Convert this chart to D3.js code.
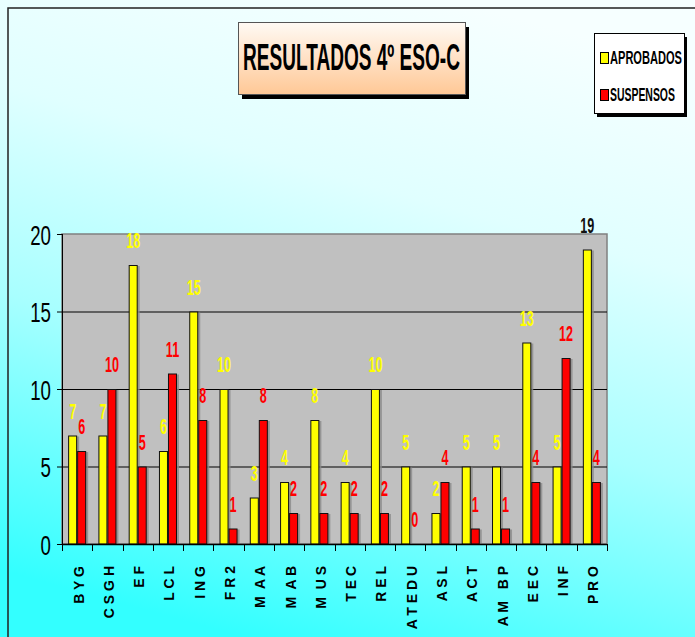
<!DOCTYPE html>
<meta charset="utf-8">
<title>resultados</title>
<style>
body { margin: 0; }
svg { display: block; }
</style>
<body>
<script src="https://cdn.jsdelivr.net/npm/d3@7"></script>
<script>
var categories = ["BYG", "CSGH", "EF", "LCL", "ING", "FR2", "MAA", "MAB", "MUS", "TEC",
                  "REL", "ATEDU", "ASL", "ACT", "AMBP", "EEC", "INF", "PRO"];
// spaced text as printed under the axis
var tickLabels = ["B Y G", "C S G H", "E F", "L C L", "I N G", "F R 2", "M  A A", "M  A B", "M  U S", "T E C",
                  "R E L", "A T E D U", "A S L", "A C T", "A M   B P", "E E C", "I N F", "P R O"];
var aprobados = [7, 7, 18, 6, 15, 10, 3, 4, 8, 4, 10, 5, 2, 5, 5, 13, 5, 19];
var suspensos = [6, 10, 5, 11, 8, 1, 8, 2, 2, 2, 2, 0, 4, 1, 1, 4, 12, 4];
var seriesNames = ["APROBADOS", "SUSPENSOS"];
var seriesColors = ["#ffff00", "#ff0000"];
var yTicks = [0, 5, 10, 15, 20];

var width = 695, height = 637;
var font = "'Liberation Sans', Arial, sans-serif";

var svg = d3.select("body").append("svg")
    .attr("width", width)
    .attr("height", height);

// squeeze a text horizontally so it spans w pixels
function fitWidth(sel, w, x, y) {
  sel.each(function() {
    var t = d3.select(this);
    var len = this.getComputedTextLength();
    t.attr("transform", "translate(" + x + "," + y + ") scale(" + (w / len) + ",1)");
  });
}

var defs = svg.append("defs");
var bg = defs.append("linearGradient").attr("id", "bg")
    .attr("x1", 0.65).attr("y1", 0).attr("x2", 0.35).attr("y2", 1);
bg.append("stop").attr("offset", 0).attr("stop-color", "#f6ffff");
bg.append("stop").attr("offset", 0.3).attr("stop-color", "#e0ffff");
bg.append("stop").attr("offset", 0.6).attr("stop-color", "#a8ffff");
bg.append("stop").attr("offset", 1).attr("stop-color", "#33ffff");
var peach = defs.append("linearGradient").attr("id", "peach")
    .attr("x1", 0).attr("y1", 0).attr("x2", 0).attr("y2", 1);
peach.append("stop").attr("offset", 0).attr("stop-color", "#fffaf4");
peach.append("stop").attr("offset", 1).attr("stop-color", "#ffc896");

// background + frame
svg.append("rect").attr("width", width).attr("height", height).attr("fill", "url(#bg)");
svg.append("path").attr("d", "M8,637V8H695").attr("fill", "none").attr("stroke", "#222").attr("stroke-width", 1.5);

var x = d3.scaleBand()
    .domain(categories)
    .range([62, 607]);
var x1 = d3.scaleBand()
    .domain([0, 1])
    .range([0, x.bandwidth()])
    .paddingOuter(0.68);
var y = d3.scaleLinear()
    .domain([0, 20])
    .range([544, 234]);

// plot area
svg.append("rect")
    .attr("x", x.range()[0]).attr("y", y(20))
    .attr("width", x.range()[1] - x.range()[0]).attr("height", y(0) - y(20))
    .attr("fill", "#c0c0c0")
    .attr("stroke", "#808080").attr("stroke-width", 1.5);

svg.append("g").selectAll("line")
    .data(yTicks.filter(function(d) { return d > 0 && d < 20; }))
  .enter().append("line")
    .attr("x1", x.range()[0]).attr("x2", x.range()[1])
    .attr("y1", function(d) { return y(d) + 0.5; })
    .attr("y2", function(d) { return y(d) + 0.5; })
    .attr("stroke", "#000");

// bars
var groups = svg.append("g").selectAll("g")
    .data(categories.map(function(c, i) { return { cat: c, values: [aprobados[i], suspensos[i]] }; }))
  .enter().append("g")
    .attr("transform", function(d) { return "translate(" + x(d.cat) + ",0)"; });

var bars = groups.selectAll("g")
    .data(function(d) { return d.values.map(function(v, k) { return { v: v, k: k }; }); })
  .enter().append("g");

bars.append("rect")
    .attr("x", function(d) { return x1(d.k) + 2; })
    .attr("y", function(d) { return y(d.v) + 1; })
    .attr("width", x1.bandwidth())
    .attr("height", function(d) { return y(0) - y(d.v) - 1; })
    .attr("fill", "#8a8a8a")
    .attr("opacity", function(d) { return d.v > 0 ? 0.8 : 0; });

bars.append("rect")
    .attr("x", function(d) { return x1(d.k) + 0.5; })
    .attr("y", function(d) { return y(d.v) + 0.5; })
    .attr("width", x1.bandwidth() - 1)
    .attr("height", function(d) { return Math.max(0, y(0) - y(d.v) - 0.5); })
    .attr("fill", function(d) { return seriesColors[d.k]; })
    .attr("stroke", "#111")
    .attr("stroke-width", 1)
    .attr("opacity", function(d) { return d.v > 0 ? 1 : 0; });

bars.append("text")
    .attr("transform", function(d) {
      return "translate(" + (x1(d.k) + x1.bandwidth() / 2) + "," + (y(d.v) - 17) + ") scale(0.56,1)";
    })
    .attr("text-anchor", "middle")
    .attr("font-family", font)
    .attr("font-weight", "bold")
    .attr("font-size", 22.5)
    .attr("fill", function(d) { return y(d.v) - 17 < y(20) ? "#111" : seriesColors[d.k]; })
    .text(function(d) { return d.v; });

// y axis
var yAxis = svg.append("g")
    .attr("transform", "translate(" + x.range()[0] + ",0)")
    .call(d3.axisLeft(y).tickValues(yTicks).tickSize(5).tickFormat(d3.format("d")));
yAxis.select(".domain").attr("stroke", "#000").attr("d", "M0.5," + y(20) + "V" + (y(0) + 0.5));
yAxis.selectAll(".tick line").attr("stroke", "#000");
yAxis.selectAll(".tick text")
    .attr("x", null).attr("dy", null)
    .attr("transform", "translate(-11,10) scale(0.68,1)")
    .attr("font-family", font)
    .attr("font-size", 27.5)
    .attr("fill", "#000");

// x axis with ticks between categories
var bounds = categories.map(function(c) { return x(c); }).concat([x.range()[1]]);
var xAxis = svg.append("g");
xAxis.append("line")
    .attr("x1", x.range()[0]).attr("x2", x.range()[1])
    .attr("y1", y(0) + 0.5).attr("y2", y(0) + 0.5)
    .attr("stroke", "#000").attr("stroke-width", 1.5);
xAxis.selectAll("line.tk")
    .data(bounds)
  .enter().append("line")
    .attr("class", "tk")
    .attr("x1", function(d) { return Math.round(d) + 0.5; })
    .attr("x2", function(d) { return Math.round(d) + 0.5; })
    .attr("y1", y(0)).attr("y2", y(0) + 7)
    .attr("stroke", "#000");
xAxis.selectAll("text")
    .data(categories)
  .enter().append("text")
    .attr("transform", function(d) {
      return "translate(" + (x(d) + x.bandwidth() / 2 + 6.5) + "," + 566 + ") rotate(-90)";
    })
    .attr("text-anchor", "end")
    .attr("font-family", font)
    .attr("font-weight", "bold")
    .attr("font-size", 14)
    .attr("fill", "#000")
    .attr("xml:space", "preserve")
    .style("white-space", "pre")
    .text(function(d, i) { return tickLabels[i]; });

// title box
var title = svg.append("g");
title.append("rect").attr("x", 242).attr("y", 27).attr("width", 227).attr("height", 72).attr("fill", "#000");
title.append("rect").attr("x", 238.5).attr("y", 22.5).attr("width", 227).attr("height", 72)
    .attr("fill", "url(#peach)").attr("stroke", "#555");
title.append("text")
    .attr("font-family", font).attr("font-weight", "bold").attr("font-size", 37)
    .attr("fill", "#000")
    .text("RESULTADOS 4º ESO-C")
    .call(fitWidth, 217, 243, 70);

// legend
var legend = svg.append("g");
legend.append("rect").attr("x", 597).attr("y", 37).attr("width", 90).attr("height", 80).attr("fill", "#000");
legend.append("rect").attr("x", 594.5).attr("y", 33.5).attr("width", 90).attr("height", 80)
    .attr("fill", "#fff").attr("stroke", "#000");
var items = legend.selectAll("g.item")
    .data(seriesNames)
  .enter().append("g")
    .attr("class", "item")
    .attr("transform", function(d, i) { return "translate(0," + (i * 37) + ")"; });
items.append("rect")
    .attr("x", 600.5).attr("y", 52.5).attr("width", 8).attr("height", 11)
    .attr("fill", function(d, i) { return seriesColors[i]; })
    .attr("stroke", "#000");
items.append("text")
    .attr("font-family", font).attr("font-weight", "bold").attr("font-size", 18)
    .attr("fill", "#000")
    .text(function(d) { return d; })
    .each(function(d, i) { d3.select(this).call(fitWidth, i === 0 ? 72 : 65, 610, 64); });
</script>
